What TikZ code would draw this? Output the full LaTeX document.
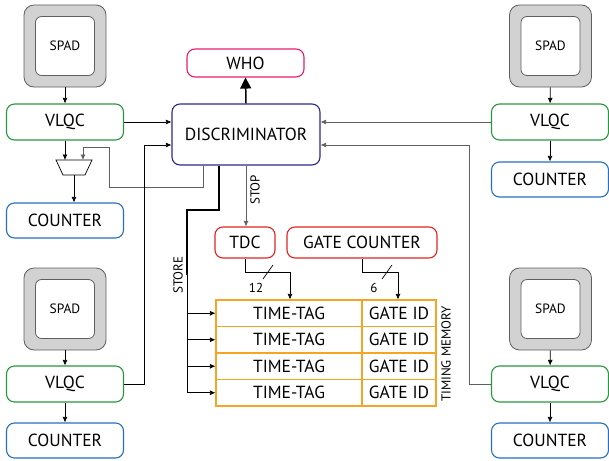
\documentclass[tikz,border=0pt]{standalone}
\usepackage{fontspec}
\setmainfont{PT Sans}
\usetikzlibrary{arrows.meta}

\definecolor{vgreen}{RGB}{40,150,60}
\definecolor{cblue}{RGB}{40,110,190}
\definecolor{dnavy}{RGB}{45,40,140}
\definecolor{wpink}{RGB}{225,30,110}
\definecolor{tred}{RGB}{225,35,35}
\definecolor{morange}{RGB}{245,165,35}
\definecolor{lgray}{RGB}{95,95,95}

\tikzset{
  blk/.style={draw,rounded corners=8pt,line width=1.1pt,inner sep=0pt,font=\fontsize{17.5}{17.5}\selectfont},
  vlqc/.style={blk,draw=vgreen,minimum width=117pt,minimum height=36pt},
  counter/.style={blk,draw=cblue,minimum width=117pt,minimum height=35pt},
  spadout/.style={draw=lgray,fill=gray!35,rounded corners=10pt,line width=0.8pt,minimum size=82pt,inner sep=0pt},
  spadin/.style={draw=lgray,fill=white,rounded corners=6pt,line width=0.8pt,minimum size=59pt,inner sep=0pt,font=\fontsize{13.5}{13.5}\selectfont},
  cell/.style={draw=morange,line width=1.1pt,minimum height=26.5pt,inner sep=0pt,font=\fontsize{17.5}{17.5}\selectfont},
  arr/.style={-{Latex[length=5.5pt,width=5pt]},line width=0.7pt},
  garr/.style={arr,draw=lgray},
  lbl/.style={font=\fontsize{13}{13}\selectfont,rotate=90}
}

\begin{document}
\begin{tikzpicture}[x=1pt,y=-1pt]
\useasboundingbox (0,0) rectangle (609,460);

% channels
\node[spadout] (spadA) at (65,46) {};
\node[spadin] at (spadA) {SPAD};
\node[vlqc] (vlqcA) at (65,122) {VLQC};
\node[counter] (cntA) at (65,220.5) {COUNTER};

\node[spadout] (spadB) at (550.5,46) {};
\node[spadin] at (spadB) {SPAD};
\node[vlqc] (vlqcB) at (550,122) {VLQC};
\node[counter] (cntB) at (550,179.5) {COUNTER};

\node[spadout] (spadC) at (65,309) {};
\node[spadin] at (spadC) {SPAD};
\node[vlqc] (vlqcC) at (65,384) {VLQC};
\node[counter] (cntC) at (65,440.5) {COUNTER};

\node[spadout] (spadD) at (550.5,309) {};
\node[spadin] at (spadD) {SPAD};
\node[vlqc] (vlqcD) at (550,384) {VLQC};
\node[counter] (cntD) at (550,440.5) {COUNTER};

%mux
\draw[line width=0.7pt] (56,160) -- (92,160) -- (85,175) -- (63,175) -- cycle;
\coordinate (muxA) at (65,160);
\coordinate (muxB) at (83,160);
\coordinate (muxout) at (74,175);

% centre
\node[blk,draw=dnavy,minimum width=148pt,minimum height=61pt] (disc) at (246,134.5) {DISCRIMINATOR};
\node[blk,draw=wpink,minimum width=117pt,minimum height=28pt] (who) at (245.5,63) {WHO};
\node[blk,draw=tred,minimum width=60pt,minimum height=31pt] (tdc) at (245,242.5) {TDC};
\node[blk,draw=tred,minimum width=150pt,minimum height=31pt] (gc) at (362,242.5) {GATE COUNTER};

%timing memory
\node[cell,minimum width=146pt] (tt1) at (289,313.25) {TIME-TAG};
\node[cell,minimum width=74pt] (gi1) at (399,313.25) {GATE ID};
\node[cell,minimum width=146pt] (tt2) at (289,339.75) {TIME-TAG};
\node[cell,minimum width=74pt] (gi2) at (399,339.75) {GATE ID};
\node[cell,minimum width=146pt] (tt3) at (289,366.25) {TIME-TAG};
\node[cell,minimum width=74pt] (gi3) at (399,366.25) {GATE ID};
\node[cell,minimum width=146pt] (tt4) at (289,392.75) {TIME-TAG};
\node[cell,minimum width=74pt] (gi4) at (399,392.75) {GATE ID};

\node[lbl] (tmem) at (446,354) {TIMING MEMORY};
\node[lbl] (store) at (178,275) {STORE};
\node[lbl] (stop) at (255,190) {STOP};

% spad -> vlqc -> counter
\draw[arr] (spadA) -- (vlqcA);
\draw[arr] (spadB) -- (vlqcB);
\draw[arr] (spadC) -- (vlqcC);
\draw[arr] (spadD) -- (vlqcD);
\draw[arr] (vlqcB) -- (cntB);
\draw[arr] (vlqcC) -- (cntC);
\draw[arr] (vlqcD) -- (cntD);
\draw[arr] (vlqcA.south) -- (muxA);
\draw[arr] (muxout) -- (muxout |- cntA.north);
\draw[garr] ([xshift=-43pt]disc.south) |- (109,187) |- (83,147) -- (muxB);

% vlqc -> discriminator
\draw[arr] (vlqcA.east) -- (vlqcA.east -| disc.west);
\draw[arr] (vlqcC.east) -| (144,145) -- ([yshift=-10.5pt]disc.west);
\draw[garr] (vlqcB.west) -- (vlqcB.west -| disc.east);
\draw[garr] (vlqcD.west) -| (469,145) -- ([yshift=-10.5pt]disc.east);

\draw[-{Triangle[length=11pt,width=11pt]},line width=1.5pt] (disc.north) -- (who.south);
\draw[garr] (disc.south) -- (disc.south |- tdc.north);

% store
\draw[line width=1.6pt] ([xshift=-27pt]disc.south) |- (187,210) -- (187,275);
\draw[line width=0.8pt] (187,274) -- (187,392.75);
\draw[arr] (187,313.25) -- (tt1.west);
\draw[arr] (187,339.75) -- (tt2.west);
\draw[arr] (187,366.25) -- (tt3.west);
\draw[arr] (187,392.75) -- (tt4.west);

% buses
\coordinate (tbus) at (290,272);
\coordinate (gbus) at (398,272);
\draw[arr] (tdc.south) |- (tbus) -- (tbus |- tt1.north);
\draw[arr] (gc.south) |- (gbus) -- (gbus |- gi1.north);
\draw[line width=0.7pt] (263,279) -- (273,265);
\draw[line width=0.7pt] (382,279) -- (392,265);
\node[font=\fontsize{13}{13}\selectfont] (nt) at (256,288) {12};
\node[font=\fontsize{13}{13}\selectfont] (ng) at (374,288) {6};
\end{tikzpicture}
\end{document}
